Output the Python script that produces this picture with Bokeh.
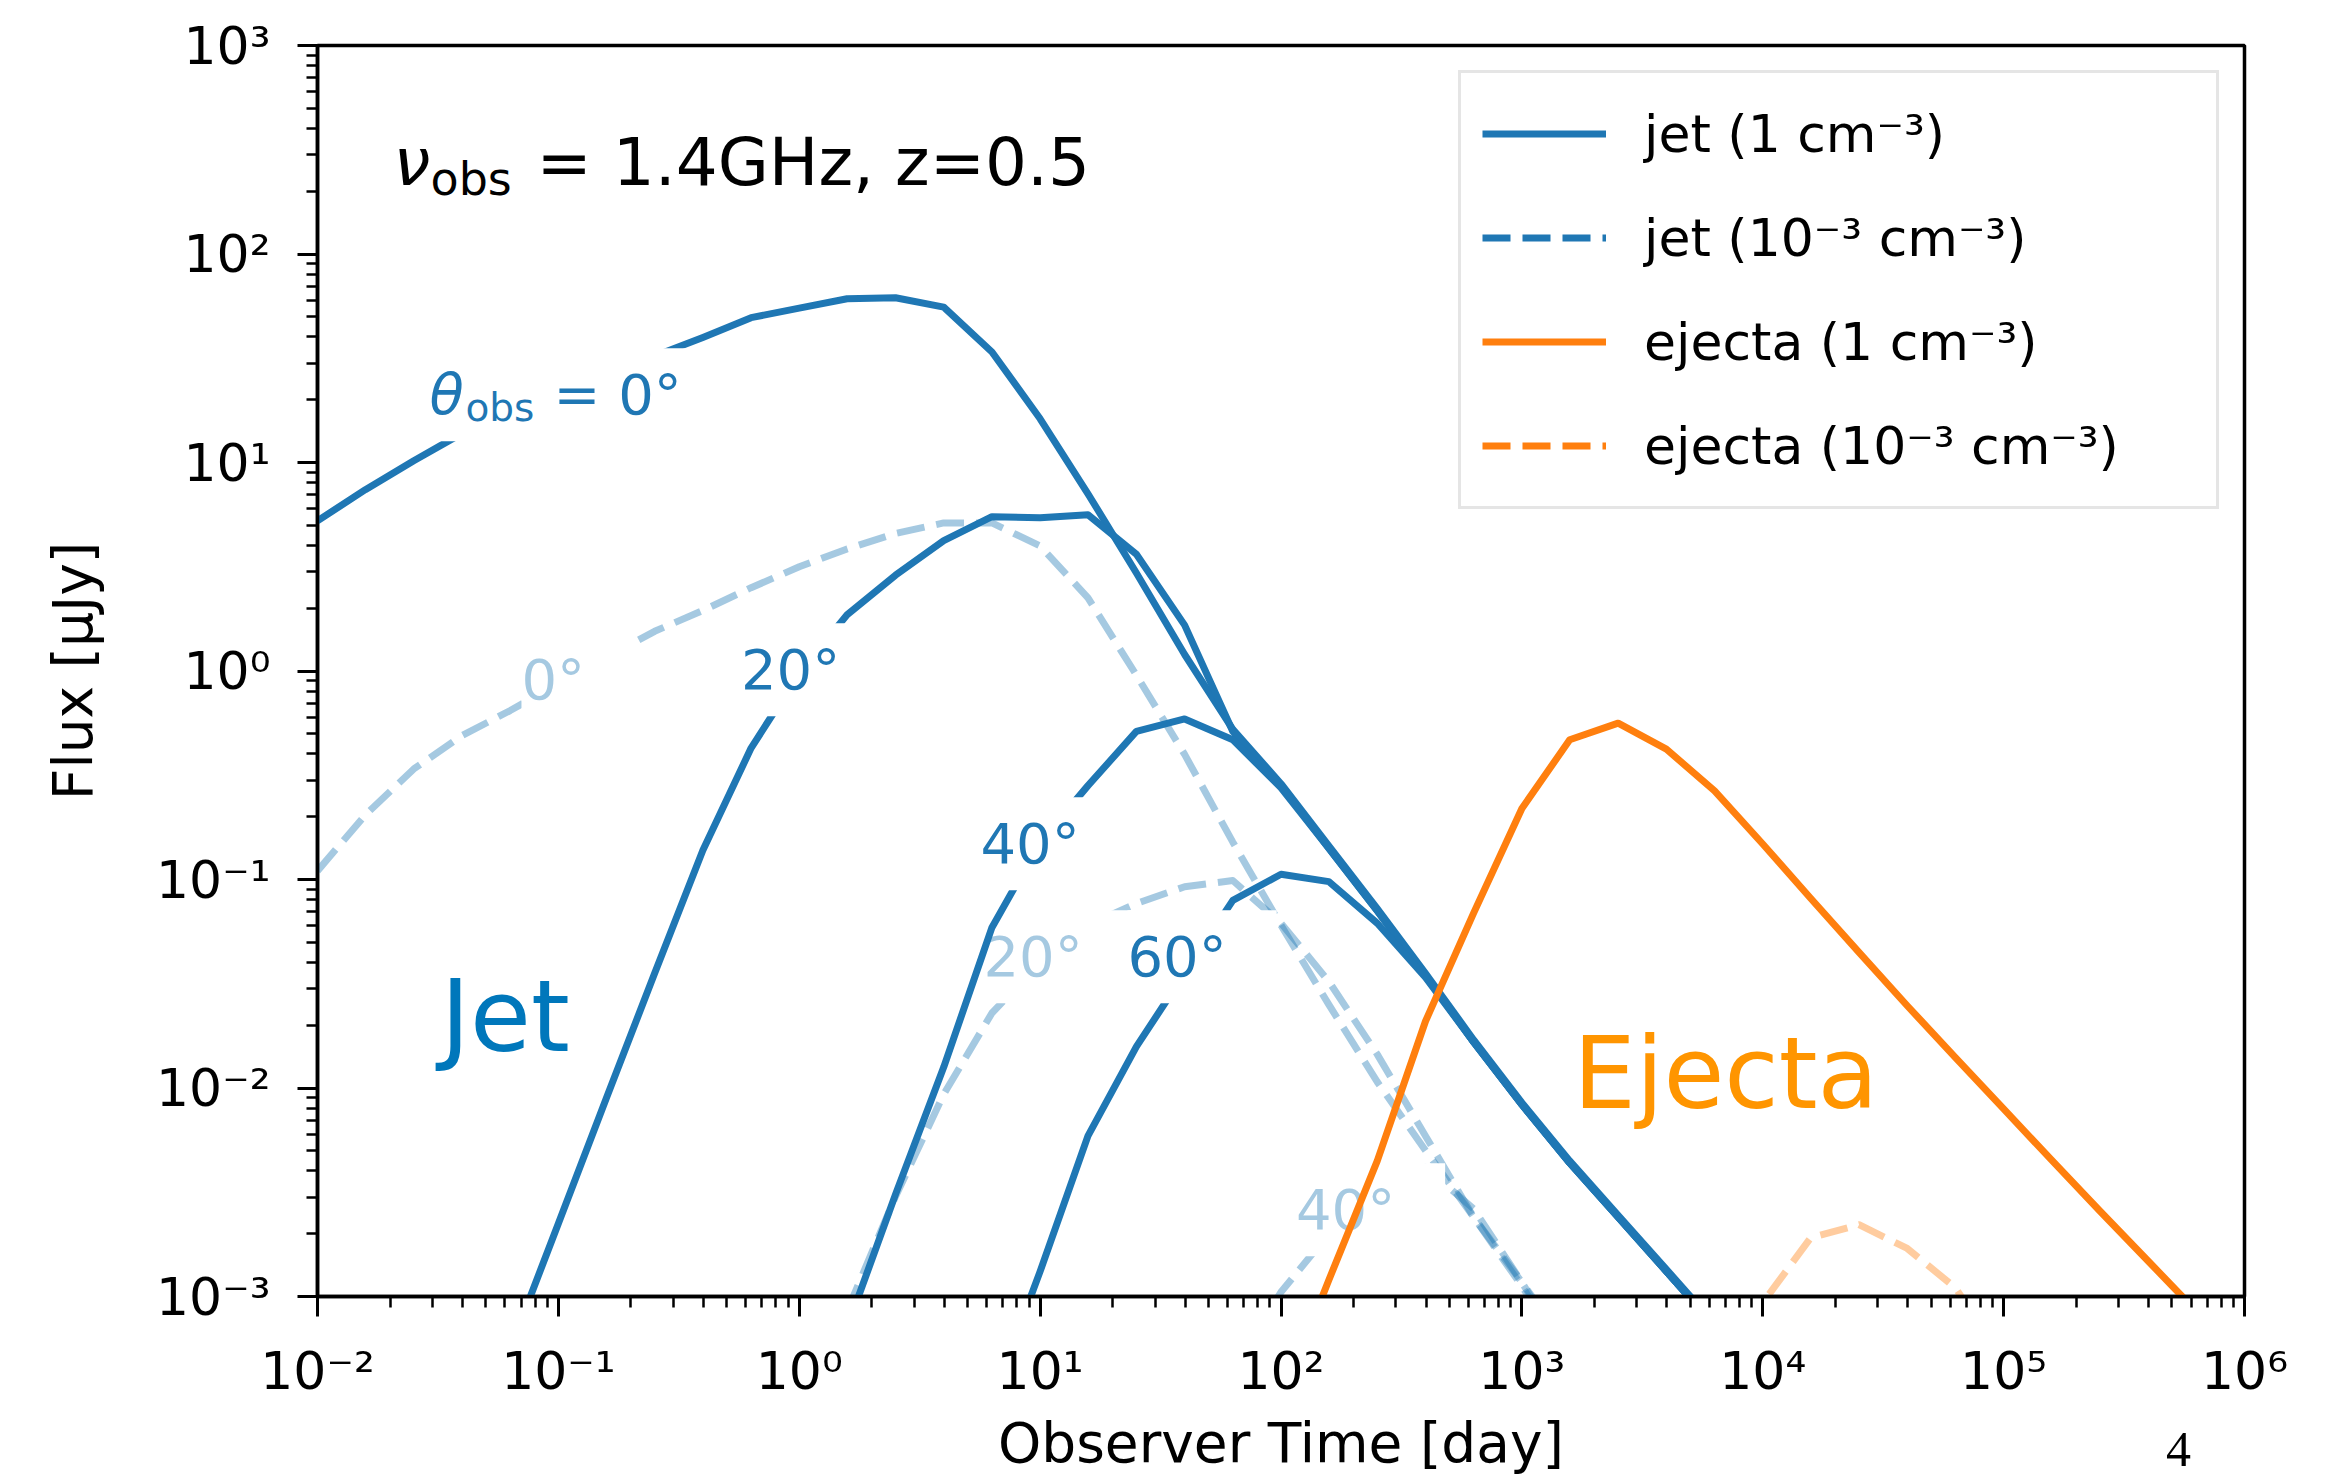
from bokeh.plotting import figure
from bokeh.models import Legend, LegendItem, CustomJSTickFormatter, FixedTicker, Div
from bokeh.layouts import column
from bokeh.core.properties import value
from bokeh.embed import file_html
from bokeh.resources import INLINE

# ---------------- data (observer time in days, flux in micro-Jy) ----------------
t_jet_dense_0 = [0.01, 0.0158, 0.0251, 0.0398, 0.0631, 0.1, 0.158, 0.251, 0.398, 0.631,
                 1.0, 1.58, 2.51, 3.98, 6.31, 10.0, 15.8, 25.1, 39.8, 63.1,
                 100.0, 158.0, 251.0, 398.0, 631.0, 1000.0, 1580.0, 2510.0, 3980.0, 6310.0]
f_jet_dense_0 = [5.25, 7.41, 10.2, 13.8, 17.4, 21.4, 26.3, 32.4, 39.8, 49.5,
                 55.0, 61.0, 61.7, 55.6, 33.9, 16.2, 7.08, 2.95, 1.20, 0.525,
                 0.288, 0.145, 0.0724, 0.0355, 0.0170, 0.00851, 0.00447, 0.00245, 0.00135, 0.00074]

t_jet_dense_20 = [0.0631, 0.1, 0.158, 0.251, 0.398, 0.631, 1.0, 1.58, 2.51, 3.98,
                  6.31, 10.0, 15.8, 25.1, 39.8, 63.1, 100.0, 158.0, 251.0, 398.0,
                  631.0, 1000.0, 1580.0, 2510.0, 3980.0, 6310.0]
f_jet_dense_20 = [0.00056, 0.00224, 0.00891, 0.0355, 0.138, 0.427, 0.977, 1.86, 2.88, 4.22,
                  5.50, 5.43, 5.62, 3.63, 1.66, 0.513, 0.282, 0.141, 0.0708, 0.0347,
                  0.0166, 0.00832, 0.00437, 0.0024, 0.00132, 0.000724]

t_jet_dense_40 = [1.58, 2.51, 3.98, 6.31, 10.0, 15.8, 25.1, 39.8, 63.1, 100.0,
                  158.0, 251.0, 398.0, 631.0, 1000.0, 1580.0, 2510.0, 3980.0, 6310.0]
f_jet_dense_40 = [0.000708, 0.00309, 0.0126, 0.0589, 0.151, 0.282, 0.513, 0.589, 0.468, 0.275,
                  0.141, 0.0708, 0.0347, 0.0166, 0.00832, 0.00437, 0.0024, 0.00132, 0.000724]

t_jet_dense_60 = [6.31, 10.0, 15.8, 25.1, 39.8, 63.1, 100.0, 158.0, 251.0, 398.0,
                  631.0, 1000.0, 1580.0, 2510.0, 3980.0, 6310.0]
f_jet_dense_60 = [0.000316, 0.00132, 0.00589, 0.0158, 0.0355, 0.0794, 0.106, 0.0977, 0.0617, 0.0339,
                  0.0166, 0.00832, 0.00437, 0.0024, 0.00132, 0.000724]

t_jet_dilute_0 = [0.01, 0.0158, 0.0251, 0.0398, 0.0631, 0.1, 0.158, 0.251, 0.398, 0.631,
                  1.0, 1.58, 2.51, 3.98, 6.31, 10.0, 15.8, 25.1, 39.8, 63.1,
                  100.0, 158.0, 251.0, 398.0, 631.0, 1000.0, 1580.0]
f_jet_dilute_0 = [0.110, 0.204, 0.339, 0.490, 0.646, 0.871, 1.16, 1.55, 1.95, 2.51,
                  3.16, 3.85, 4.57, 5.13, 5.13, 3.98, 2.24, 0.955, 0.398, 0.151,
                  0.0603, 0.0251, 0.0107, 0.00501, 0.0024, 0.00117, 0.00056]

t_jet_dilute_20 = [1.58, 2.51, 3.98, 6.31, 10.0, 15.8, 25.1, 39.8, 63.1, 100.0,
                   158.0, 251.0, 398.0, 631.0, 1000.0, 1580.0]
f_jet_dilute_20 = [0.000851, 0.00302, 0.00933, 0.0229, 0.0398, 0.0603, 0.0767, 0.0923, 0.0989, 0.0617,
                   0.0324, 0.0145, 0.00589, 0.0024, 0.00112, 0.0005]

t_jet_dilute_40 = [63.1, 100.0, 158.0, 251.0, 398.0, 631.0, 1000.0, 1580.0]
f_jet_dilute_40 = [0.000447, 0.00105, 0.0020, 0.00316, 0.00417, 0.00263, 0.00117, 0.0005]

t_ej_dense = [100.0, 158.0, 251.0, 398.0, 631.0, 1000.0, 1580.0, 2510.0, 3980.0, 6310.0,
              10000.0, 15800.0, 25100.0, 39800.0, 63100.0, 100000.0, 158000.0, 251000.0, 398000.0, 631000.0]
f_ej_dense = [0.000316, 0.0012, 0.00447, 0.0209, 0.0692, 0.219, 0.468, 0.562, 0.422, 0.266,
              0.148, 0.0813, 0.0447, 0.0248, 0.014, 0.00794, 0.00452, 0.00257, 0.00148, 0.000851]

t_ej_dilute = [6310.0, 10000.0, 15800.0, 25100.0, 39800.0, 63100.0, 100000.0]
f_ej_dilute = [0.000316, 0.000933, 0.00191, 0.00221, 0.0017, 0.0011, 0.0005]

x_ticks = [1e-2, 1e-1, 1e0, 1e1, 1e2, 1e3, 1e4, 1e5, 1e6]
y_ticks = [1e-3, 1e-2, 1e-1, 1e0, 1e1, 1e2, 1e3]

legend_labels = ["jet (1 cm⁻³)", "jet (10⁻³ cm⁻³)", "ejecta (1 cm⁻³)", "ejecta (10⁻³ cm⁻³)"]

# ---------------- styling ----------------
FONT = "DejaVu Sans"
BLUE = "#1f77b4"
ORANGE = "#ff7f0e"
BLUE_LIGHT = "#a5c9e1"
LW = 7
DASH = "28 12"
BOX = dict(left=25, right=25, top=14, bottom=14)
PX_PER_DECADE_Y = 208.5   # vertical pixels per decade of flux
LIFT = 0.30               # baseline correction (fraction of font size)

fig = figure(width=2341, height=1478, x_axis_type="log", y_axis_type="log",
             x_range=(1e-2, 1e6), y_range=(1e-3, 1e3),
             output_backend="svg", toolbar_location=None,
             min_border_left=317, min_border_right=97, min_border_top=45, min_border_bottom=182,
             background_fill_color="white", border_fill_color="white")
fig.xgrid.visible = False
fig.ygrid.visible = False
fig.outline_line_color = "black"
fig.outline_line_width = 3.5
fig.outline_line_alpha = 1.0

fmt_code = """
const e = Math.round(Math.log10(tick));
const m = {"-":"⁻","0":"⁰","1":"¹","2":"²","3":"³","4":"⁴","5":"⁵","6":"⁶","7":"⁷","8":"⁸","9":"⁹"};
return "10" + String(e).split("").map(c => m[c]).join("");
"""

minor_x = [m * 10.0 ** e for e in range(-2, 6) for m in range(2, 10)]
minor_y = [m * 10.0 ** e for e in range(-3, 3) for m in range(2, 10)]
fig.xaxis[0].ticker = FixedTicker(ticks=x_ticks, minor_ticks=minor_x)
fig.yaxis[0].ticker = FixedTicker(ticks=y_ticks, minor_ticks=minor_y)

for ax in (fig.xaxis[0], fig.yaxis[0]):
    ax.formatter = CustomJSTickFormatter(code=fmt_code)
    ax.major_label_text_font = FONT
    ax.major_label_text_font_size = "52px"
    ax.major_label_text_color = "black"
    ax.axis_label_text_font = FONT
    ax.axis_label_text_font_size = "55px"
    ax.axis_label_text_font_style = "normal"
    ax.axis_label_text_color = "black"
    ax.major_tick_out = 20
    ax.major_tick_in = 0
    ax.minor_tick_out = 11
    ax.minor_tick_in = 0
    ax.major_tick_line_width = 3
    ax.minor_tick_line_width = 2.5
    ax.axis_line_width = 3.5
    ax.major_tick_line_color = "black"
    ax.minor_tick_line_color = "black"
    ax.axis_line_color = "black"

fig.xaxis[0].axis_label = "Observer Time [day]"
fig.yaxis[0].axis_label = "Flux [μJy]"
fig.xaxis[0].major_label_standoff = 24
fig.xaxis[0].axis_label_standoff = 7
fig.yaxis[0].major_label_standoff = 27
fig.yaxis[0].axis_label_standoff = 48


def add_text(pieces, color, box=None):
    """pieces: list of (t, flux_at_baseline, text, size_px, style). Optional white box behind."""
    placed = []
    for (tx, fy, txt, size, style) in pieces:
        fy_adj = fy * 10 ** (LIFT * size / PX_PER_DECADE_Y)
        placed.append((tx, fy_adj, txt, "%dpx" % size, style))
    if box is not None:
        for (tx, fy, txt, size, style) in placed:
            fig.text(x=[tx], y=[fy], text=[txt], text_font=value(FONT), text_font_size=size,
                     text_font_style=style, text_alpha=0.0, text_align="left",
                     text_baseline="alphabetic", background_fill_color="white",
                     padding=box)
    for (tx, fy, txt, size, style) in placed:
        fig.text(x=[tx], y=[fy], text=[txt], text_font=value(FONT), text_font_size=size,
                 text_font_style=style, text_color=color, text_align="left",
                 text_baseline="alphabetic")


# theta = 0 (dense jet)
fig.line(t_jet_dense_0, f_jet_dense_0, line_color=BLUE, line_width=LW, line_join="round")
add_text([(0.02916, 17.56, "θ", 56, "italic"),
          (0.04115, 16.08, "obs", 39, "normal"),
          (0.09544, 17.56, "= 0°", 56, "normal")], BLUE, BOX)

# theta = 0 (dilute jet)
fig.line(t_jet_dilute_0, f_jet_dilute_0, line_color=BLUE, line_alpha=0.4, line_width=LW,
         line_dash=DASH, line_join="round")
add_text([(0.07027, 0.7547, "0°", 56, "normal")], BLUE_LIGHT, BOX)

# theta = 20
fig.line(t_jet_dense_20, f_jet_dense_20, line_color=BLUE, line_width=LW, line_join="round")
add_text([(0.5728, 0.8426, "20°", 56, "normal")], BLUE, BOX)

fig.line(t_jet_dilute_20, f_jet_dilute_20, line_color=BLUE, line_alpha=0.4, line_width=LW,
         line_dash=DASH, line_join="round")
add_text([(5.815, 0.0354, "20°", 56, "normal")], BLUE_LIGHT, BOX)

# theta = 40
fig.line(t_jet_dense_40, f_jet_dense_40, line_color=BLUE, line_width=LW, line_join="round")
add_text([(5.652, 0.1234, "40°", 56, "normal")], BLUE, BOX)

fig.line(t_jet_dilute_40, f_jet_dilute_40, line_color=BLUE, line_alpha=0.4, line_width=LW,
         line_dash=DASH, line_join="round")
add_text([(115.3, 0.002166, "40°", 56, "normal")], BLUE_LIGHT, BOX)

# theta = 60
fig.line(t_jet_dense_60, f_jet_dense_60, line_color=BLUE, line_width=LW, line_join="round")
add_text([(23.04, 0.0354, "60°", 56, "normal")], BLUE, BOX)

# ejecta
fig.line(t_ej_dense, f_ej_dense, line_color=ORANGE, line_width=LW, line_join="round")
fig.line(t_ej_dilute, f_ej_dilute, line_color=ORANGE, line_alpha=0.4, line_width=LW,
         line_dash=DASH, line_join="round")

# big labels and annotation
add_text([(0.0325, 0.01581, "Jet", 99, "normal")], "#0077bb")
add_text([(1636.0, 0.008428, "Ejecta", 99, "normal")], "#ff9500")
add_text([(0.02068, 220.3, "ν", 66, "italic"),
          (0.02945, 197.2, "obs", 46, "normal"),
          (0.0811, 220.3, "= 1.4GHz, z=0.5", 66, "normal")], "black")

# legend (full-opacity proxies that draw nothing in the frame)
nan = float("nan")
proxies = [
    fig.line(x=[nan, nan], y=[nan, nan], line_color=BLUE, line_width=LW),
    fig.line(x=[nan, nan], y=[nan, nan], line_color=BLUE, line_width=LW, line_dash=DASH),
    fig.line(x=[nan, nan], y=[nan, nan], line_color=ORANGE, line_width=LW),
    fig.line(x=[nan, nan], y=[nan, nan], line_color=ORANGE, line_width=LW, line_dash=DASH),
]
legend = Legend(items=[LegendItem(label=lab, renderers=[r]) for lab, r in zip(legend_labels, proxies)],
                location="top_right", margin=25, padding=21, spacing=25,
                glyph_width=124, glyph_height=79, label_height=79, label_width=551,
                label_standoff=38, label_text_font=FONT, label_text_font_size="52px",
                label_text_color="black",
                border_line_color="#cccccc", border_line_width=3,
                background_fill_color="white", background_fill_alpha=0.8)
fig.add_layout(legend)

# page number, placed over the bottom-right of the page
page_no = Div(text="4", width=36, height=48,
              styles={"position": "absolute", "left": "2166px", "top": "1424px",
                      "font-family": "Liberation Serif", "font-size": "50px",
                      "line-height": "1", "color": "black", "margin": "0",
                      "overflow": "visible", "z-index": "10"})

p = column(fig, page_no, spacing=0)

open("out.html", "w").write(file_html(p, INLINE))
